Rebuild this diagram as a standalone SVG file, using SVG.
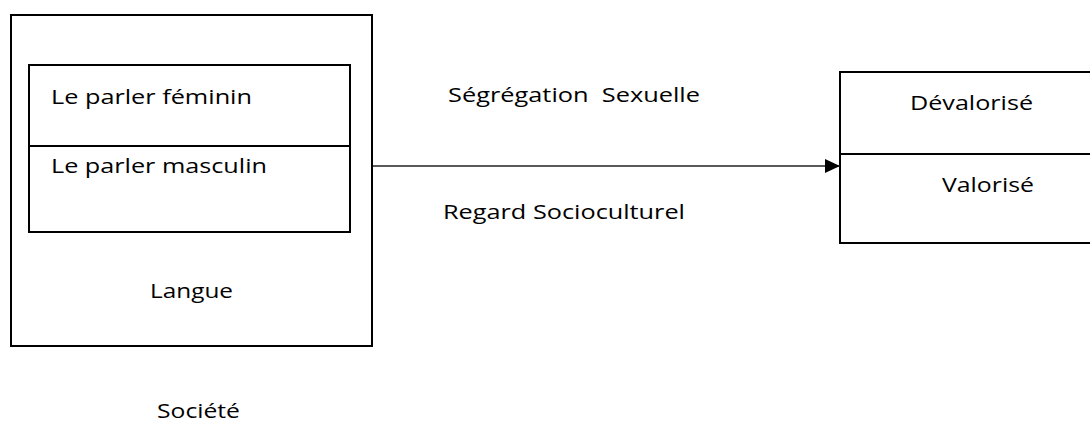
<svg xmlns="http://www.w3.org/2000/svg" width="1090" height="423" viewBox="0 0 1090 423">
<style>
.box{fill:none;stroke:#000;stroke-width:2}
.t{font-family:"Open Sans","Liberation Sans",sans-serif;font-size:20.5px;fill:#000;white-space:pre}
.conn{stroke:#222;stroke-width:1.3;fill:none}
</style>
<defs>
<marker id="arr" markerWidth="15" markerHeight="14" refX="15" refY="7" orient="auto" markerUnits="userSpaceOnUse">
<path d="M0,0 L15,7 L0,14 Z" fill="#000"/>
</marker>
</defs>
<rect width="1090" height="423" fill="#fff"/>
<g id="societe">
<text class="t" x="157" y="418" textLength="83" lengthAdjust="spacingAndGlyphs">Société</text>
</g>
<g id="langue">
<rect class="box" x="11" y="15" width="361" height="331"/>
<text class="t" x="150" y="298" textLength="83" lengthAdjust="spacingAndGlyphs">Langue</text>
</g>
<g id="parler">
<rect class="box" x="29" y="65" width="321" height="167"/>
<line class="box" x1="29" y1="146" x2="350" y2="146"/>
<text class="t" x="51" y="104" textLength="201" lengthAdjust="spacingAndGlyphs">Le parler féminin</text>
<text class="t" x="51" y="173" textLength="216" lengthAdjust="spacingAndGlyphs">Le parler masculin</text>
</g>
<g id="valeur">
<rect class="box" x="840" y="72" width="260" height="171"/>
<line class="box" x1="840" y1="154" x2="1100" y2="154"/>
<text class="t" x="910" y="110" textLength="123" lengthAdjust="spacingAndGlyphs">Dévalorisé</text>
<text class="t" x="942" y="192" textLength="92" lengthAdjust="spacingAndGlyphs">Valorisé</text>
</g>
<g id="connectors">
<line class="conn" x1="373" y1="166" x2="840" y2="166" marker-end="url(#arr)"/>
<text class="t" x="448" y="102" textLength="252" lengthAdjust="spacingAndGlyphs" xml:space="preserve">Ségrégation  Sexuelle</text>
<text class="t" x="443" y="219" textLength="242" lengthAdjust="spacingAndGlyphs">Regard Socioculturel</text>
</g>
</svg>
